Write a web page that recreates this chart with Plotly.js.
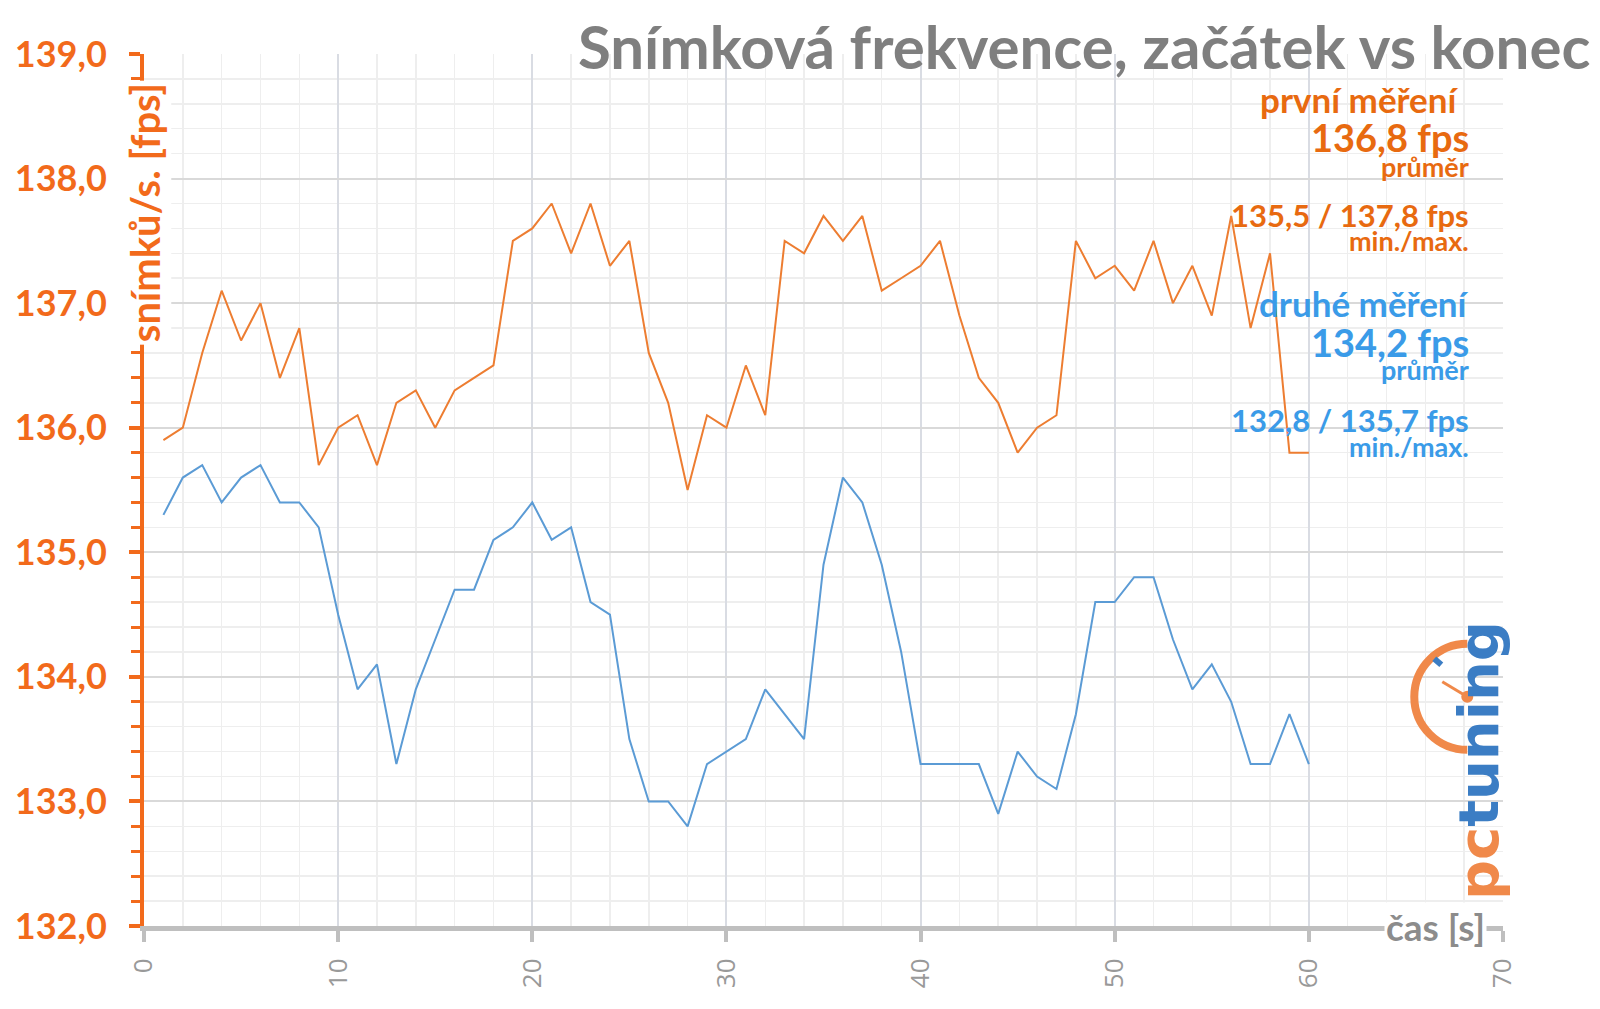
<!DOCTYPE html>
<html>
<head>
<meta charset="utf-8">
<script src="https://cdn.plot.ly/plotly-3.0.1.min.js"></script>
<style>html,body{margin:0;padding:0;background:#fff;}#chart{width:1600px;height:1009px;}</style>
</head>
<body>
<div id="chart"></div>
<script>
// ---- data ----
const seconds = [1,2,3,4,5,6,7,8,9,10,11,12,13,14,15,16,17,18,19,20,21,22,23,24,25,26,27,28,29,30,31,32,33,34,35,36,37,38,39,40,41,42,43,44,45,46,47,48,49,50,51,52,53,54,55,56,57,58,59,60];
const prvniMereni = [135.9,136.0,136.6,137.1,136.7,137.0,136.4,136.8,135.7,136.0,136.1,135.7,136.2,136.3,136.0,136.3,136.4,136.5,137.5,137.6,137.8,137.4,137.8,137.3,137.5,136.6,136.2,135.5,136.1,136.0,136.5,136.1,137.5,137.4,137.7,137.5,137.7,137.1,137.2,137.3,137.5,136.9,136.4,136.2,135.8,136.0,136.1,137.5,137.2,137.3,137.1,137.5,137.0,137.3,136.9,137.7,136.8,137.4,135.8,135.8];
const druheMereni = [135.3,135.6,135.7,135.4,135.6,135.7,135.4,135.4,135.2,134.5,133.9,134.1,133.3,133.9,134.3,134.7,134.7,135.1,135.2,135.4,135.1,135.2,134.6,134.5,133.5,133.0,133.0,132.8,133.3,133.4,133.5,133.9,133.7,133.5,134.9,135.6,135.4,134.9,134.2,133.3,133.3,133.3,133.3,132.9,133.4,133.2,133.1,133.7,134.6,134.6,134.8,134.8,134.3,133.9,134.1,133.8,133.3,133.3,133.7,133.3];
const xTicks = [0,10,20,30,40,50,60,70];
const titleText = 'Snímková frekvence, začátek vs konec';
const yTitle = 'snímků/s. [fps]';
const xTitle = 'čas [s]';
const series1Label = 'první měření', series1Avg = '136,8 fps', series1MinMax = '135,5 / 137,8 fps';
const series2Label = 'druhé měření', series2Avg = '134,2 fps', series2MinMax = '132,8 / 135,7 fps';

// ---- styles ----
const ORANGE_LINE = '#ED7D31';
const BLUE_LINE = '#5B9BD5';
const ORANGE_AXIS = '#F26A1B';
const ORANGE_TEXT = '#E86A10';
const BLUE_TEXT = '#3A9BE8';
const GRAY = '#7F7F7F';
const F = 'Lato, "Open Sans", sans-serif';

const traces = [
  {x: seconds, y: prvniMereni, type: 'scatter', mode: 'lines', name: series1Label,
   line: {color: ORANGE_LINE, width: 2}, hoverinfo: 'skip'},
  {x: seconds, y: druheMereni, type: 'scatter', mode: 'lines', name: series2Label,
   line: {color: BLUE_LINE, width: 2}, hoverinfo: 'skip'}
];

function ann(text, y, color, size, extra) {
  return Object.assign({xref: 'x', yref: 'y', x: 68.3, y: y, xanchor: 'right', yanchor: 'middle',
    text: text, showarrow: false, borderpad: 0, font: {family: F, size: size, color: color, weight: 700}}, extra || {});
}

const annotations = [
  ann(series1Label, 138.64, ORANGE_TEXT, 35, {xshift: -10}),
  ann(series1Avg, 138.33, ORANGE_TEXT, 38),
  ann('průměr', 138.10, ORANGE_TEXT, 27),
  ann(series1MinMax, 137.71, ORANGE_TEXT, 31),
  ann('min./max.', 137.50, ORANGE_TEXT, 27),
  ann(series2Label, 137.0, BLUE_TEXT, 35),
  ann(series2Avg, 136.69, BLUE_TEXT, 38),
  ann('průměr', 136.47, BLUE_TEXT, 27),
  ann(series2MinMax, 136.06, BLUE_TEXT, 31),
  ann('min./max.', 135.85, BLUE_TEXT, 27),
  // y axis title over the axis line
  {xref: 'x', yref: 'y', x: 0.05, y: 137.73, xanchor: 'center', yanchor: 'middle', textangle: -90,
   text: yTitle, showarrow: false, bgcolor: '#ffffff', borderpad: 2,
   font: {family: F, size: 40, color: ORANGE_AXIS, weight: 700}},
  // x axis title over the axis line
  {xref: 'x', yref: 'y', x: 66.5, y: 132, xanchor: 'center', yanchor: 'middle',
   text: xTitle, showarrow: false, bgcolor: '#ffffff', borderpad: 1,
   font: {family: F, size: 37, color: '#8C8C8C', weight: 700}},
  // logo text
  {xref: 'x', yref: 'y', x: 68.75, y: 133.33, xanchor: 'center', yanchor: 'middle', textangle: -90,
   text: '<span style="color:#F0894A">pc</span><span style="color:#3B7DC4">tuning</span>',
   showarrow: false, font: {family: '"DejaVu Sans", sans-serif', size: 56, weight: 700}}
];

const r = 53, k = 0.5523 * r;
const logoAnchor = {xref: 'x', yref: 'y', xsizemode: 'pixel', ysizemode: 'pixel', xanchor: 68.16, yanchor: 133.84};
const shapes = [
  Object.assign({type: 'path', path: `M 0,${r} C ${-k},${r} ${-r},${k} ${-r},0 C ${-r},${-k} ${-k},${-r} 0,${-r}`,
    line: {color: '#F0894A', width: 8}}, logoAnchor),
  Object.assign({type: 'path', path: 'M 0,0 L -25,15', line: {color: '#F0894A', width: 3}}, logoAnchor),
  Object.assign({type: 'circle', x0: -6, x1: 6, y0: -6, y1: 6, fillcolor: '#F0894A', line: {width: 0}}, logoAnchor),
  Object.assign({type: 'path', path: 'M -33,38 L -26,32', line: {color: '#3B7DC4', width: 6}}, logoAnchor)
];

const layout = {
  width: 1600, height: 1009,
  margin: {l: 144, r: 97, t: 54, b: 83},
  paper_bgcolor: '#ffffff', plot_bgcolor: '#ffffff',
  showlegend: false,
  separators: ',.',
  title: {text: titleText, xref: 'container', yref: 'container', x: 0.994, xanchor: 'right', y: 0.952, yanchor: 'middle',
          font: {family: F, size: 60, color: GRAY, weight: 700}},
  xaxis: {
    range: [0, 70], tickvals: xTicks, ticktext: xTicks.map(String), tickangle: -90,
    showgrid: true, gridcolor: '#D9DCE3', gridwidth: 2,
    minor: {dtick: 2, showgrid: true, gridcolor: '#EEEEEE', gridwidth: 1.5, ticks: ''},
    showline: true, linecolor: '#BFBFBF', linewidth: 5,
    ticks: 'outside', ticklen: 11, tickwidth: 4, tickcolor: '#BFBFBF',
    ticklabelstandoff: 6,
    tickfont: {family: '"Open Sans", sans-serif', size: 26, color: '#999999'},
    zeroline: false, fixedrange: true
  },
  yaxis: {
    range: [132, 139], dtick: 1, tick0: 132, tickformat: '.1f',
    showgrid: true, gridcolor: '#D9D9D9', gridwidth: 2,
    minor: {dtick: 0.2, showgrid: true, gridcolor: '#EEEEEE', gridwidth: 1.5, ticks: 'outside', ticklen: 9, tickwidth: 3, tickcolor: ORANGE_AXIS},
    showline: true, linecolor: ORANGE_AXIS, linewidth: 4,
    ticks: 'outside', ticklen: 11, tickwidth: 4, tickcolor: ORANGE_AXIS,
    ticklabelstandoff: 15,
    tickfont: {family: F, size: 36, color: ORANGE_AXIS, weight: 700},
    zeroline: false, fixedrange: true
  },
  yaxis2: {
    overlaying: 'y', side: 'left', range: [132, 139], dtick: 1, tick0: 132,
    showgrid: false, showline: false, zeroline: false, showticklabels: false,
    ticks: 'inside', ticklen: 10, tickwidth: 4, tickcolor: ORANGE_AXIS, fixedrange: true
  },
  annotations: annotations,
  shapes: shapes
};

Plotly.newPlot('chart', traces, layout, {displayModeBar: false, staticPlot: true});
</script>
</body>
</html>
